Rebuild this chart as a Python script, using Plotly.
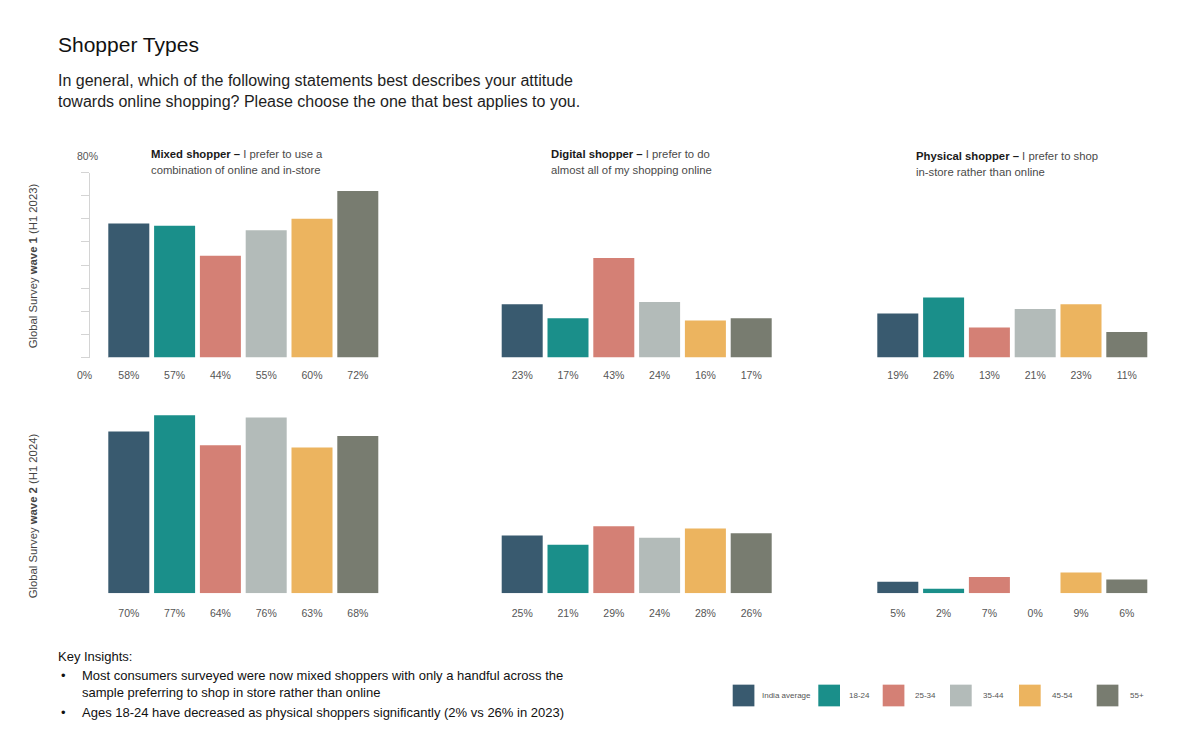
import plotly.graph_objects as go

# ---------------- data ----------------
categories = ["India average", "18-24", "25-34", "35-44", "45-54", "55+"]
colors = ["#395a6f", "#1a8f8a", "#d48075", "#b3bbb9", "#ecb45f", "#787c70"]

mixed_w1 = [58, 57, 44, 55, 60, 72]
digital_w1 = [23, 17, 43, 24, 16, 17]
physical_w1 = [19, 26, 13, 21, 23, 11]

mixed_w2 = [70, 77, 64, 76, 63, 68]
digital_w2 = [25, 21, 29, 24, 28, 26]
physical_w2 = [5, 2, 7, 0, 9, 6]

panel_titles_bold = ["Mixed shopper –", "Digital shopper –", "Physical shopper –"]
panel_titles_rest1 = [" I prefer to use a", " I prefer to do", " I prefer to shop"]
panel_titles_line2 = ["combination of online and in-store",
                      "almost all of my shopping online",
                      "in-store rather than online"]
row_labels = ["Global Survey <b>wave 1</b> (H1 2023)",
              "Global Survey <b>wave 2</b> (H1 2024)"]
y_range = [0, 80]
y_tick_labels = ["0%", "80%"]

title = "Shopper Types"
subtitle = ["In general, which of the following statements best describes your attitude",
            "towards online shopping? Please choose the one that best applies to you."]
insights_head = "Key Insights:"
insights = [["Most consumers surveyed were now mixed shoppers with only a handful across the",
             "sample preferring to shop in store rather than online"],
            ["Ages 18-24 have decreased as physical shoppers significantly (2% vs 26% in 2023)"]]

rows = [[mixed_w1, digital_w1, physical_w1],
        [mixed_w2, digital_w2, physical_w2]]

# ---------------- layout helpers ----------------
OFF = 8                      # page body margin
W, H = 1200 - 2 * OFF, 752 - 2 * OFF
FONT = "Liberation Sans, Arial, Helvetica, sans-serif"


def px(x):
    return (x - OFF) / W


def py(y):
    return 1 - (y - OFF) / H


col_left = [105.9, 499.3, 874.9]
col_width = 274.8
row_base = [357.5, 593.3]
row_height = 185.0
label_standoff = [10, 12]
BARGAP = 0.105

fig = go.Figure()
annotations = []
shapes = []

for r in range(2):
    for c in range(3):
        n = r * 3 + c + 1
        xa = "x" if n == 1 else f"x{n}"
        ya = "y" if n == 1 else f"y{n}"
        vals = rows[r][c]
        fig.add_trace(go.Bar(
            x=categories, y=vals, marker=dict(color=colors, line=dict(width=0)),
            xaxis=xa, yaxis=ya, showlegend=False, hoverinfo="x+y",
        ))
        xdom = [px(col_left[c]), px(col_left[c] + col_width)]
        ydom = [py(row_base[r]), py(row_base[r] - row_height)]
        xkey = "xaxis" if n == 1 else f"xaxis{n}"
        ykey = "yaxis" if n == 1 else f"yaxis{n}"
        fig.layout[xkey] = dict(
            domain=xdom, anchor=ya, type="category",
            range=[-0.5, len(categories) - 0.5],
            tickmode="array", tickvals=categories,
            ticktext=[f"{v}%" for v in vals],
            ticks="", showline=False, showgrid=False, zeroline=False,
            tickfont=dict(size=10.5, color="#555555", family=FONT),
            ticklabelstandoff=label_standoff[r], fixedrange=True,
        )
        if n == 1:
            fig.layout[ykey] = dict(
                domain=ydom, anchor="free", position=px(89), range=y_range,
                showline=True, linecolor="#d4d4d4", linewidth=1,
                ticks="outside", ticklen=8, tickcolor="#d4d4d4", tickwidth=1,
                dtick=10, tick0=0, showticklabels=False, showgrid=False,
                zeroline=False, fixedrange=True,
            )
            # small marker line below the first bar edge
            shapes.append(dict(type="line", xref=xa, yref=ya,
                               x0=-0.5 + BARGAP / 2, x1=-0.5 + BARGAP / 2,
                               ysizemode="pixel", yanchor=0, y0=0, y1=-9,
                               line=dict(color="#a0a0a0", width=1)))
        else:
            fig.layout[ykey] = dict(domain=ydom, anchor=xa, range=y_range,
                                    visible=False, fixedrange=True)

# y-axis end labels (top-left panel)
annotations.append(dict(text=y_tick_labels[1], x=px(87.5), y=py(156), xref="paper", yref="paper",
                        showarrow=False, xanchor="center", yanchor="middle",
                        font=dict(size=10.5, color="#555555", family=FONT)))
annotations.append(dict(text=y_tick_labels[0], x=px(84), y=py(375), xref="paper", yref="paper",
                        showarrow=False, xanchor="center", yanchor="middle",
                        font=dict(size=10.5, color="#555555", family=FONT)))

# panel titles
title_x = [149, 549, 913.5]
title_y = [(154, 170), (154, 170), (156, 171.5)]
for c in range(3):
    annotations.append(dict(
        text=f"<span style='color:#1a1a1a'><b>{panel_titles_bold[c]}</b></span>{panel_titles_rest1[c]}",
        x=px(title_x[c]), y=py(title_y[c][0]), xref="paper", yref="paper",
        showarrow=False, xanchor="left", yanchor="middle",
        font=dict(size=11.3, color="#4a4a4a", family=FONT)))
    annotations.append(dict(
        text=panel_titles_line2[c],
        x=px(title_x[c]), y=py(title_y[c][1]), xref="paper", yref="paper",
        showarrow=False, xanchor="left", yanchor="middle",
        font=dict(size=11.3, color="#4a4a4a", family=FONT)))

# row labels
row_label_y = [266, 516]
for r in range(2):
    annotations.append(dict(
        text=row_labels[r], x=px(33.3), y=py(row_label_y[r]), xref="paper", yref="paper",
        showarrow=False, xanchor="center", yanchor="middle", textangle=-90,
        font=dict(size=11.3, color="#444444", family=FONT)))

# main title & subtitle
annotations.append(dict(text=title, x=px(55.5), y=py(44.5), xref="paper", yref="paper",
                        showarrow=False, xanchor="left", yanchor="middle",
                        font=dict(size=21, color="#111111", family=FONT)))
for i, line in enumerate(subtitle):
    annotations.append(dict(text=line, x=px(56), y=py(80.5 + 21 * i), xref="paper", yref="paper",
                            showarrow=False, xanchor="left", yanchor="middle",
                            font=dict(size=16, color="#1e1e1e", family=FONT)))

# key insights
annotations.append(dict(text=insights_head, x=px(56), y=py(656), xref="paper", yref="paper",
                        showarrow=False, xanchor="left", yanchor="middle",
                        font=dict(size=13, color="#111111", family=FONT)))
ins_y = [[675.5, 692.5], [712]]
for b, lines in enumerate(insights):
    annotations.append(dict(text="•", x=px(59), y=py(ins_y[b][0]), xref="paper", yref="paper",
                            showarrow=False, xanchor="left", yanchor="middle",
                            font=dict(size=13, color="#111111", family=FONT)))
    for j, line in enumerate(lines):
        annotations.append(dict(text=line, x=px(80), y=py(ins_y[b][j]), xref="paper", yref="paper",
                                showarrow=False, xanchor="left", yanchor="middle",
                                font=dict(size=13, color="#111111", family=FONT)))

# legend (drawn as swatches + labels)
legend_sq_x = [732.7, 818.3, 882.7, 950.0, 1019.0, 1096.7]
legend_lbl_x = [759.5, 846.5, 912.5, 980.5, 1050.0, 1128.3]
SQ = 21.7
LEG_Y = 695.5
for i, cat in enumerate(categories):
    shapes.append(dict(type="rect", xref="paper", yref="paper",
                       x0=px(legend_sq_x[i]), x1=px(legend_sq_x[i] + SQ),
                       y0=py(LEG_Y + SQ / 2), y1=py(LEG_Y - SQ / 2),
                       fillcolor=colors[i], line=dict(width=0)))
    annotations.append(dict(text=cat, x=px(legend_lbl_x[i]), y=py(LEG_Y), xref="paper", yref="paper",
                            showarrow=False, xanchor="left", yanchor="middle",
                            font=dict(size=8, color="#555555", family=FONT)))

fig.update_layout(
    width=W, height=H, margin=dict(l=0, r=0, t=0, b=0),
    paper_bgcolor="white", plot_bgcolor="white",
    bargap=BARGAP, showlegend=False,
    annotations=annotations, shapes=shapes,
    font=dict(family=FONT),
)

fig.write_html("out.html")
